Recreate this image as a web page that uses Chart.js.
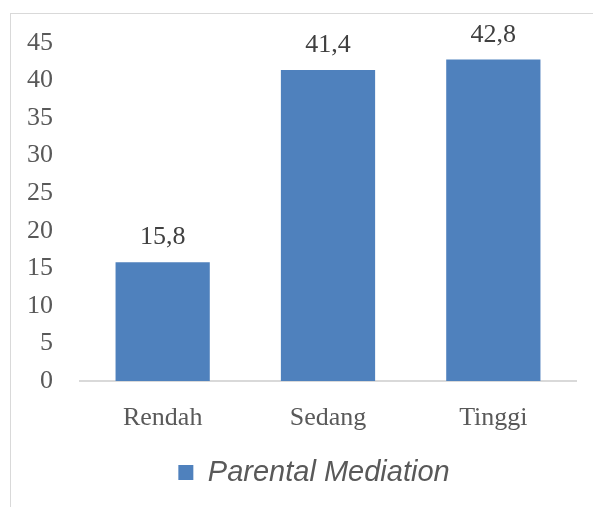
<!DOCTYPE html>
<html>
<head>
<meta charset="utf-8">
<script src="https://cdn.jsdelivr.net/npm/chart.js@4"></script>
<style>
  html, body { margin: 0; padding: 0; background: #fff; }
  #wrap { position: relative; width: 593px; height: 507px; overflow: hidden; }
  #frame { position: absolute; left: 10px; top: 13px; width: 600px; height: 520px; border: 1px solid #d9d9d9; box-sizing: border-box; }
  #Grafica { position: absolute; left: 0; top: 0; }
</style>
</head>
<body>
<div id="wrap">
  <div id="frame"></div>
  <canvas id="Grafica" width="593" height="507"></canvas>
</div>
<script>
const categories = ['Rendah', 'Sedang', 'Tinggi'];
const seriesName = 'Parental Mediation';
const values = [15.8, 41.4, 42.8];
const yTicks = [0, 5, 10, 15, 20, 25, 30, 35, 40, 45];

const serif = "'Liberation Serif', 'DejaVu Serif', serif";

// etiquetas encima de cada barra
const valueLabels = {
    id: 'valueLabels',
    afterDatasetsDraw(chart) {
        const ctx = chart.ctx;
        const meta = chart.getDatasetMeta(0);
        ctx.save();
        ctx.font = '26px ' + serif;
        ctx.fillStyle = '#404040';
        ctx.textAlign = 'center';
        ctx.textBaseline = 'alphabetic';
        meta.data.forEach((bar, i) => {
            ctx.fillText(values[i].toFixed(1).replace('.', ','), bar.x, bar.y - 18);
        });
        ctx.restore();
    }
};

// mover la leyenda un poco a la derecha
const shiftLegend = {
    id: 'shiftLegend',
    afterLayout(chart) {
        const lg = chart.legend;
        lg.left += 21;
        lg.right += 21;
    }
};

const ctx = document.getElementById('Grafica').getContext('2d');
new Chart(ctx, {
    type: 'bar',
    data: {
        labels: categories,
        datasets: [{
            label: seriesName,
            data: values,
            backgroundColor: '#4F81BD',
            borderWidth: 0,
            categoryPercentage: 0.57,
            barPercentage: 1
        }]
    },
    options: {
        responsive: false,
        animation: false,
        layout: { padding: { left: 10, top: 43, right: 17, bottom: 10 } },
        scales: {
            x: {
                grid: { display: false, drawTicks: false },
                border: { display: true, color: '#d9d9d9', width: 2 },
                ticks: { color: '#595959', font: { family: serif, size: 26 }, padding: 22 },
                afterFit(scale) { scale.height = 67; }
            },
            y: {
                min: 0,
                max: 45,
                afterBuildTicks(scale) { scale.ticks = yTicks.map(v => ({ value: v })); },
                grid: { display: false, drawTicks: false },
                border: { display: false },
                ticks: { color: '#595959', font: { family: serif, size: 26 }, padding: 27 },
                afterFit(scale) { scale.width = 70; }
            }
        },
        plugins: {
            tooltip: { enabled: false },
            legend: {
                position: 'bottom',
                labels: {
                    color: '#595959',
                    font: { family: "'Liberation Sans', Arial, sans-serif", size: 29, style: 'italic' },
                    boxWidth: 15,
                    boxHeight: 15,
                    padding: 10
                }
            }
        }
    },
    plugins: [valueLabels, shiftLegend]
});
</script>
</body>
</html>
